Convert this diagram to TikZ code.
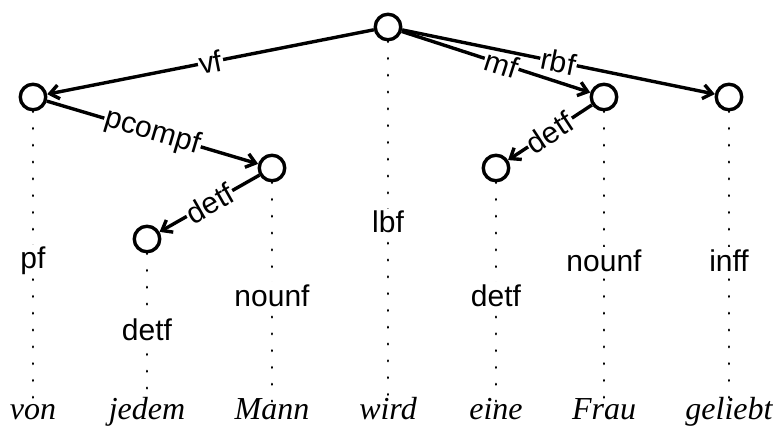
\documentclass[tikz,border=0pt]{standalone}
\usepackage{fontspec}
\setmainfont{Liberation Serif}
\setsansfont{Liberation Sans}
\usetikzlibrary{arrows.meta}
\begin{document}
\begin{tikzpicture}[x=1pt,y=-1pt,
  tnode/.style={circle,draw,line width=3.4pt,minimum size=25.5pt,inner sep=0pt},
  edge/.style={line width=3.4pt,-{Straight Barb[length=9pt,width=14pt]}},
  elab/.style={sloped,fill=white,inner sep=1pt,font=\fontsize{30}{36}\selectfont\sffamily},
  flab/.style={fill=white,inner sep=2pt,anchor=base,font=\fontsize{30}{36}\selectfont\sffamily},
  word/.style={anchor=base,inner sep=0pt,font=\fontsize{32}{38}\selectfont\itshape},
  dots/.style={line width=2.8pt,line cap=round,dash pattern=on 0.4pt off 16.4pt}]
\useasboundingbox (0,0) rectangle (780,433);
% tree nodes
\node[tnode] (r) at (388,27) {};
\node[tnode] (a) at (33,97) {};
\node[tnode] (b) at (272,168) {};
\node[tnode] (c) at (147,239) {};
\node[tnode] (d) at (604,97) {};
\node[tnode] (e) at (496,168) {};
\node[tnode] (f) at (729,97) {};
% dotted projection lines
\coordinate (ea) at (33,404);
\coordinate (ec) at (147,404);
\coordinate (eb) at (272,404);
\coordinate (er) at (388,404);
\coordinate (ee) at (496,404);
\coordinate (ed) at (604,404);
\coordinate (ef) at (729,404);
\draw[dots] (a.south) -- (ea);
\draw[dots] (c.south) -- (ec);
\draw[dots] (b.south) -- (eb);
\draw[dots] (r.south) -- (er);
\draw[dots] (e.south) -- (ee);
\draw[dots] (d.south) -- (ed);
\draw[dots] (f.south) -- (ef);
% field labels
\node[flab] (l1) at (33,269) {pf};
\node[flab] (l2) at (147,340) {detf};
\node[flab] (l3) at (272,306) {nounf};
\node[flab] (l4) at (388,233) {lbf};
\node[flab] (l5) at (496,306) {detf};
\node[flab] (l6) at (604,271) {nounf};
\node[flab] (l7) at (729,271) {inff};
% words
\node[word] (w1) at (33,419) {von};
\node[word] (w2) at (147,419) {jedem};
\node[word] (w3) at (272,419) {Mann};
\node[word] (w4) at (388,419) {wird};
\node[word] (w5) at (496,419) {eine};
\node[word] (w6) at (604,419) {Frau};
\node[word] (w7) at (729,419) {geliebt};
% edges
\draw[edge] (r) -- node[elab]{vf} (a);
\draw[edge] (a) -- node[elab]{pcompf} (b);
\draw[edge] (b) -- node[elab]{detf} (c);
\draw[edge] (r) -- node[elab,pos=0.53]{mf} (d);
\draw[edge] (r) -- node[elab]{rbf} (f);
\draw[edge] (d) -- node[elab]{detf} (e);
\end{tikzpicture}
\end{document}
